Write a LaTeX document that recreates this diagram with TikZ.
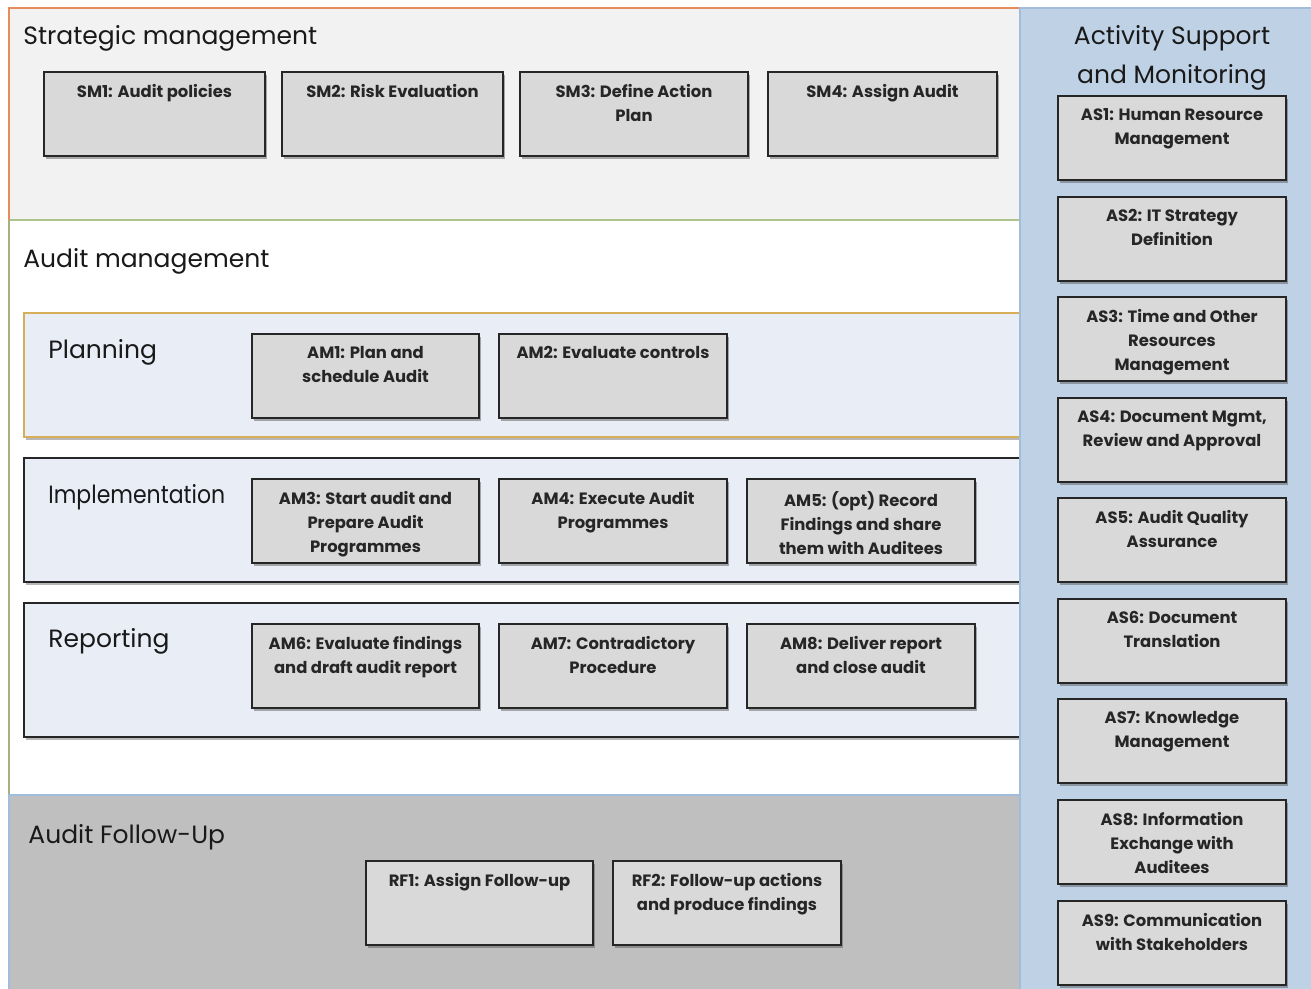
\documentclass[tikz,border=0pt]{standalone}
\usepackage{fontspec}
\setmainfont{Poppins}
\usetikzlibrary{shadows}
\definecolor{boxfill}{RGB}{217,217,217}
\definecolor{smfill}{RGB}{242,242,242}
\definecolor{subfill}{RGB}{233,237,245}
\definecolor{fufill}{RGB}{191,191,191}
\definecolor{asfill}{RGB}{191,210,229}
\definecolor{orangeb}{RGB}{230,140,90}
\definecolor{oliveb}{RGB}{170,175,130}
\definecolor{greenb}{RGB}{175,195,140}
\definecolor{blueb}{RGB}{160,190,220}
\definecolor{goldb}{RGB}{215,175,90}
\tikzset{
  x=0.5pt, y=-0.5pt,
  boxs/.style={draw=black!85, line width=0.8pt, fill=boxfill, inner sep=0pt,
    drop shadow={shadow xshift=1.2pt, shadow yshift=-1.4pt, opacity=0.45, fill=black!70}},
  boxtext/.style={inner sep=0pt, align=center, font=\bfseries\fontsize{8.2}{12}\selectfont, text=black!85},
  title/.style={inner sep=0pt, anchor=west, font=\fontsize{12.5}{19.5}\selectfont, text=black!90},
  subpanel/.style={fill=subfill, line width=0.7pt,
    drop shadow={shadow xshift=1pt, shadow yshift=-1.5pt, opacity=0.4, fill=black!70}},
}
\newcommand\bx[6]{%
  \node[boxs, minimum width={(#4-#2)*0.5pt}, minimum height={(#5-#3)*0.5pt}] (#1) at ({(#2+#4)/2},{(#3+#5)/2}) {};
  \node[boxtext, anchor=north] (#1t) at ({(#2+#4)/2},{#3+12}) {#6};}
\begin{document}
\begin{tikzpicture}
\useasboundingbox (0,0) rectangle (1311,989);
\fill[white] (0,0) rectangle (1311,989);
% panels
\fill[smfill] (9,8) rectangle (1020,220);
\fill[white] (9,220) rectangle (1020,795);
\fill[fufill] (9,795) rectangle (1020,989);
\draw[greenb, line width=0.7pt] (9,220) -- (1020,220);
\draw[orangeb, line width=0.9pt] (9,220) -- (9,8) -- (1020,8);
\draw[oliveb, line width=0.9pt] (9,220) -- (9,795);
\draw[blueb, line width=0.9pt] (9,989) -- (9,795) -- (1020,795);
% sub panels
\node[subpanel, draw=goldb, minimum width={996*0.5pt}, minimum height={124*0.5pt}] (plan) at (522,375) {};
\node[subpanel, draw=black!85, minimum width={996*0.5pt}, minimum height={124*0.5pt}] (impl) at (522,520) {};
\node[subpanel, draw=black!85, minimum width={996*0.5pt}, minimum height={134*0.5pt}] (rep) at (522,670) {};
% right panel
\fill[asfill] (1020,8) rectangle (1311,989);
\draw[blueb, line width=0.9pt] (1020,989) -- (1020,8) -- (1311,8);
% titles
\node[title] (tsm) at (23,38) {Strategic management};
\node[title] (tam) at (23,261) {Audit management};
\node[title] (tpl) at (48,352) {Planning};
\node[title] (tim) at (48,497) {\scalebox{0.88}[1]{Implementation}};
\node[title] (tre) at (48,641) {Reporting};
\node[title] (tfu) at (28,837) {Audit Follow-Up};
\node[title, anchor=center, align=center] (tas) at (1172,58) {Activity Support\\and Monitoring};
% boxes
\bx{sm1}{44}{72}{265}{156}{SM1: Audit policies}
\bx{sm2}{282}{72}{503}{156}{SM2: Risk Evaluation}
\bx{sm3}{520}{72}{748}{156}{SM3: Define Action\\Plan}
\bx{sm4}{768}{72}{997}{156}{SM4: Assign Audit}
\bx{am1}{252}{334}{479}{418}{AM1: Plan and\\schedule Audit}
\bx{am2}{499}{334}{727}{418}{AM2: Evaluate controls}
\bx{am3}{252}{479}{479}{563}{AM3: Start audit and\\Prepare Audit\\Programmes}
\bx{am4}{499}{479}{727}{563}{AM4: Execute Audit\\Programmes}
\bx{am5}{747}{479}{975}{563}{AM5: (opt) Record\\Findings and share\\them with Auditees}
\bx{am6}{252}{624}{479}{708}{AM6: Evaluate findings\\and draft audit report}
\bx{am7}{499}{624}{727}{708}{AM7: Contradictory\\Procedure}
\bx{am8}{747}{624}{975}{708}{AM8: Deliver report\\and close audit}
\bx{rf1}{366}{861}{593}{945}{RF1: Assign Follow-up}
\bx{rf2}{613}{861}{841}{945}{RF2: Follow-up actions\\and produce findings}
\bx{as1}{1058}{96}{1286}{180}{AS1: Human Resource\\Management}
\bx{as2}{1058}{197}{1286}{281}{AS2: IT Strategy\\Definition}
\bx{as3}{1058}{297}{1286}{381}{AS3: Time and Other\\Resources\\Management}
\bx{as4}{1058}{398}{1286}{482}{AS4: Document Mgmt,\\Review and Approval}
\bx{as5}{1058}{498}{1286}{582}{AS5: Audit Quality\\Assurance}
\bx{as6}{1058}{599}{1286}{683}{AS6: Document\\Translation}
\bx{as7}{1058}{699}{1286}{783}{AS7: Knowledge\\Management}
\bx{as8}{1058}{800}{1286}{884}{AS8: Information\\Exchange with\\Auditees}
\bx{as9}{1058}{901}{1286}{985}{AS9: Communication\\with Stakeholders}
\end{tikzpicture}
\end{document}
